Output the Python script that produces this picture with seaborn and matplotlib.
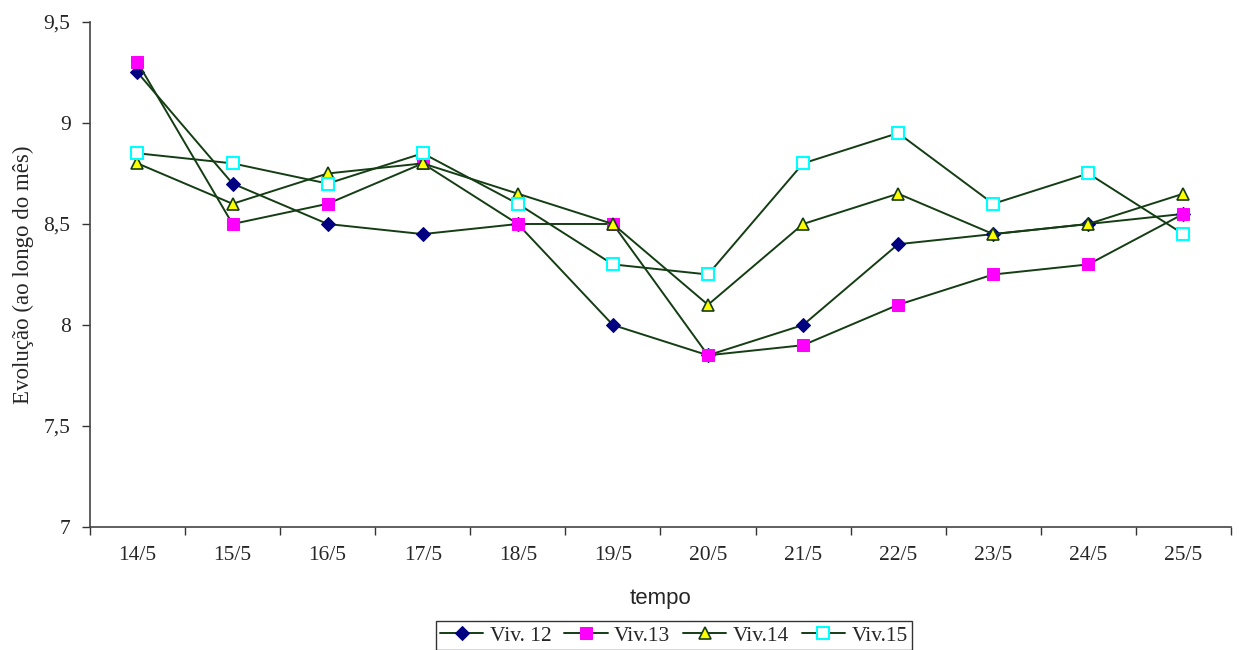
import numpy as np
import pandas as pd
import matplotlib
matplotlib.use("Agg")
import matplotlib.pyplot as plt
import seaborn as sns

# data
days = ["14/5", "15/5", "16/5", "17/5", "18/5", "19/5",
        "20/5", "21/5", "22/5", "23/5", "24/5", "25/5"]
viv12 = [9.25, 8.7, 8.5, 8.45, 8.5, 8.0, 7.85, 8.0, 8.4, 8.45, 8.5, 8.55]
viv13 = [9.3, 8.5, 8.6, 8.8, 8.5, 8.5, 7.85, 7.9, 8.1, 8.25, 8.3, 8.55]
viv14 = [8.8, 8.6, 8.75, 8.8, 8.65, 8.5, 8.1, 8.5, 8.65, 8.45, 8.5, 8.65]
viv15 = [8.85, 8.8, 8.7, 8.85, 8.6, 8.3, 8.25, 8.8, 8.95, 8.6, 8.75, 8.45]
series_names = ["Viv. 12", "Viv.13", "Viv.14", "Viv.15"]

sns.set_theme(style="white")
plt.rcParams["font.family"] = ["Liberation Serif", "DejaVu Serif"]

line_col = "#143d14"
styles = {
    "Viv. 12": dict(marker="D", markersize=7, markerfacecolor="#000080", markeredgecolor="#000080"),
    "Viv.13": dict(marker="s", markersize=8, markerfacecolor="#ff00ff", markeredgecolor="#ff00ff"),
    "Viv.14": dict(marker="^", markersize=8.5, markerfacecolor="#ffff00", markeredgecolor=line_col, markeredgewidth=1.2),
    "Viv.15": dict(marker="s", markersize=8, markerfacecolor="white", markeredgecolor="#00ffff", markeredgewidth=1.5),
}

df = pd.DataFrame({"dia": days, "Viv. 12": viv12, "Viv.13": viv13,
                   "Viv.14": viv14, "Viv.15": viv15})

fig = plt.figure(figsize=(12.39, 6.5), dpi=100)
ax = fig.add_axes([0.0726, 0.1892, 0.9209, 0.777])

for name in series_names:
    sns.lineplot(data=df, x="dia", y=name, ax=ax, color=line_col, linewidth=1.4,
                 label=name, sort=False, **styles[name])

ax.set_xlim(-0.5, len(days) - 0.5)
ax.set_ylim(7, 9.5)
ax.set_yticks([7, 7.5, 8, 8.5, 9, 9.5])
ax.set_yticklabels(["7", "7,5", "8", "8,5", "9", "9,5"])
ax.set_xticks(range(len(days)))
ax.set_xticklabels(days)
ax.set_xticks(np.arange(-0.5, len(days), 1), minor=True)
ax.tick_params(axis="x", which="major", bottom=False, labelsize=15.5, pad=8)
ax.tick_params(axis="x", which="minor", bottom=True, length=6, width=1,
               color="#333333", direction="out")
ax.tick_params(axis="y", left=True, length=6, width=1, color="#333333",
               direction="out", labelsize=15.5, pad=8)

for s in ["top", "right"]:
    ax.spines[s].set_visible(False)
for s in ["left", "bottom"]:
    ax.spines[s].set_color("#444444")
    ax.spines[s].set_linewidth(1.2)

ax.set_xlabel("tempo", family=["Liberation Sans", "DejaVu Sans"], fontsize=16, labelpad=16)
ax.set_ylabel("Evolução (ao longo do mês)", fontsize=16.5, labelpad=7)

ax.get_legend().remove()
handles, labels = ax.get_legend_handles_labels()
leg = fig.legend(handles, labels, loc="center", bbox_to_anchor=(0.544, 0.022), ncol=4,
                 frameon=True, fancybox=False, edgecolor="black", fontsize=15.5,
                 handlelength=2.0, handletextpad=0.3, columnspacing=0.6,
                 borderpad=0.2, borderaxespad=0)
leg.get_frame().set_linewidth(1.0)

fig.savefig("out.png", dpi=100)
